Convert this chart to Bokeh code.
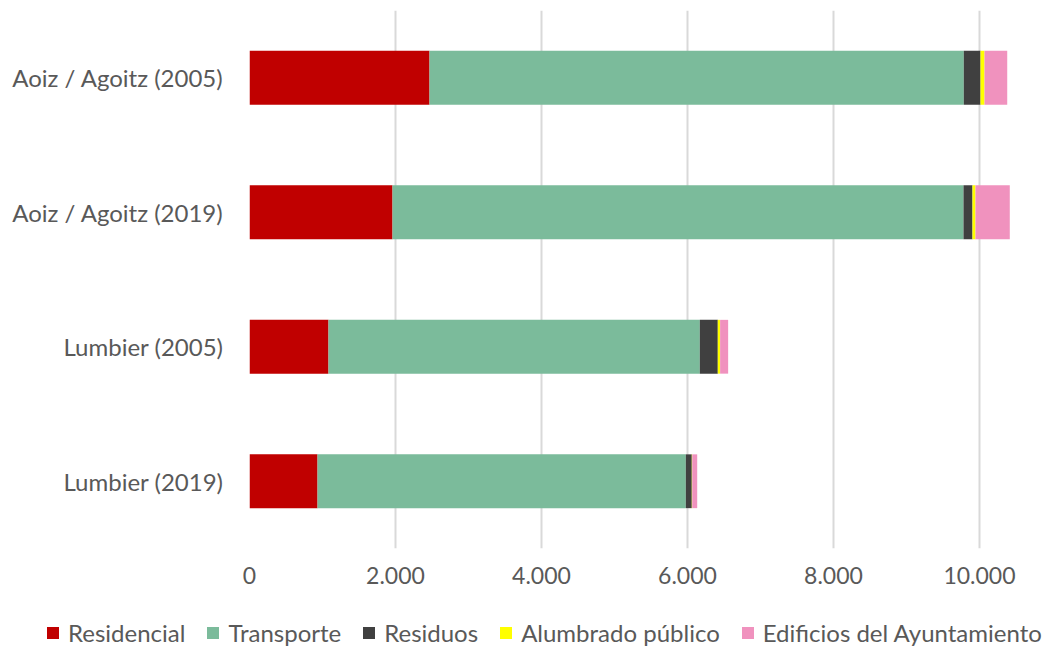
from bokeh.plotting import figure
from bokeh.models import ColumnDataSource, FactorRange, Range1d, Legend, CustomJSTickFormatter, FixedTicker
from bokeh.layouts import column
from bokeh.embed import file_html
from bokeh.resources import INLINE

categories = ["Aoiz / Agoitz (2005)", "Aoiz / Agoitz (2019)", "Lumbier (2005)", "Lumbier (2019)"]
series = ["Residencial", "Transporte", "Residuos", "Alumbrado público", "Edificios del Ayuntamiento"]
residencial = [2466, 1959, 1082, 932]
transporte = [7319, 7822, 5087, 5045]
residuos = [229, 123, 246, 82]
alumbrado = [55, 41, 32, 6]
edificios = [311, 470, 110, 68]
colors = ["#C00000", "#7BBB9B", "#404040", "#FFFF00", "#F092BE"]
xticks = [0, 2000, 4000, 6000, 8000, 10000]

FONT = "Lato"
TXT = "#595959"

src = ColumnDataSource(dict(cat=categories, **{
    series[0]: residencial, series[1]: transporte, series[2]: residuos,
    series[3]: alumbrado, series[4]: edificios}))

p = figure(width=1046, height=600, output_backend="svg", toolbar_location=None,
           y_range=FactorRange(*reversed(categories), range_padding=0),
           x_range=Range1d(0, 10918), frame_align=False)
p.min_border_left = 249
p.min_border_top = 10
p.min_border_right = 0
p.min_border_bottom = 52
p.outline_line_color = None

p.hbar_stack(series, y="cat", height=0.4, color=colors, source=src, line_width=0)

p.ygrid.grid_line_color = None
p.xgrid.grid_line_color = "#D9D9D9"
p.xgrid.grid_line_width = 2
p.xaxis.ticker = FixedTicker(ticks=xticks)
p.xaxis.formatter = CustomJSTickFormatter(code="return tick.toLocaleString('de-DE');")
for ax in (p.xaxis[0], p.yaxis[0]):
    ax.axis_line_color = None
    ax.major_tick_line_color = None
    ax.minor_tick_line_color = None
    ax.major_tick_out = 0
    ax.major_label_text_font = FONT
    ax.major_label_text_color = TXT
p.xaxis.major_label_text_font_size = "23px"
p.yaxis.major_label_text_font_size = "24px"
p.xaxis.major_label_standoff = 18
p.yaxis.major_label_standoff = 26

# legend strip: same stacked series, drawn outside its visible range so only the legend shows
lg = figure(width=1046, height=46, output_backend="svg", toolbar_location=None,
            y_range=FactorRange(*reversed(categories)), x_range=Range1d(-20000, -10000),
            x_axis_location=None, y_axis_location=None, frame_align=False)
lg.min_border_left = 0
lg.min_border_right = 0
lg.min_border_top = 0
lg.min_border_bottom = 0
lg.outline_line_color = None
lg.grid.grid_line_color = None
rl = lg.hbar_stack(series, y="cat", height=0.4, color=colors, source=src, line_width=0)

legend = Legend(items=[(s, [rl[i]]) for i, s in enumerate(series)], orientation="horizontal",
                location=(45, -1), label_text_font=FONT, label_text_font_size="24px",
                label_text_color=TXT, glyph_width=15, glyph_height=15, spacing=20,
                label_standoff=8, padding=0, margin=0, border_line_color=None,
                background_fill_alpha=0)
lg.add_layout(legend, "center")

layout = column(p, lg, spacing=0)
open("out.html", "w").write(file_html(layout, INLINE))
